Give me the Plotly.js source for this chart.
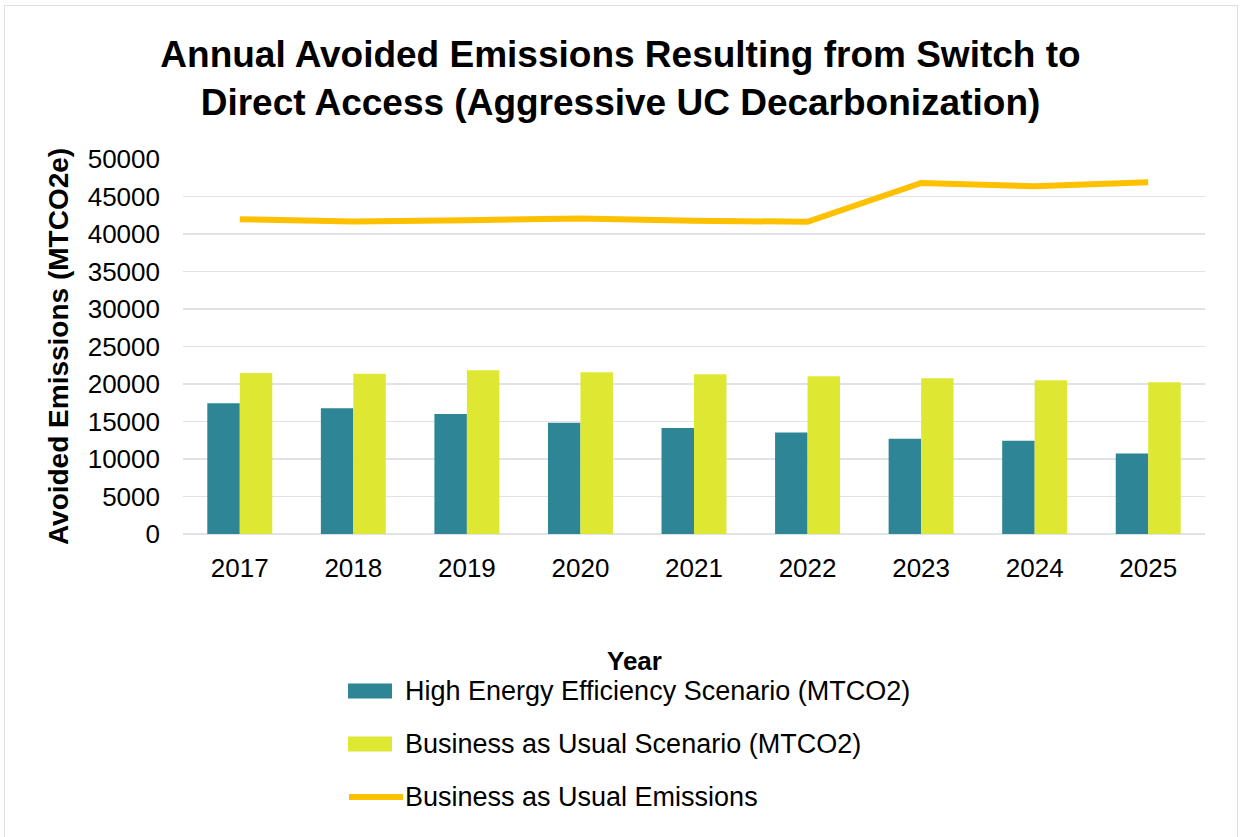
<!DOCTYPE html>
<html>
<head>
<meta charset="utf-8">
<script src="https://cdn.plot.ly/plotly-3.0.1.min.js"></script>
<style>
  html, body { margin: 0; padding: 0; background: #ffffff; }
  #wrap { position: relative; width: 1241px; height: 837px; overflow: hidden; }
  #chart { width: 1241px; height: 837px; }
  #frame {
    position: absolute; left: 4px; top: 5px; width: 1234px; height: 840px;
    border: 1.5px solid #dcdfe3; pointer-events: none; box-sizing: border-box;
  }
</style>
</head>
<body>
<div id="wrap">
  <div id="chart"></div>
  <div id="frame"></div>
</div>
<script>
// Years on the category axis
const years = ['2017', '2018', '2019', '2020', '2021', '2022', '2023', '2024', '2025'];

// Avoided emissions per scenario (MTCO2)
const highEfficiency = [17450, 16780, 16010, 14820, 14150, 13530, 12690, 12420, 10730];
const businessAsUsual = [21470, 21380, 21830, 21560, 21300, 21030, 20770, 20500, 20230];

// Business-as-usual emissions line
const bauEmissions = [41970, 41660, 41840, 42060, 41780, 41620, 46800, 46360, 46900];

const seriesNames = [
  'High Energy Efficiency Scenario (MTCO2)',
  'Business as Usual Scenario (MTCO2)',
  'Business as Usual Emissions'
];

const TEAL = '#2e8595';
const LIME = '#dee832';
const GOLD = '#ffc000';
const FONT = '"Liberation Sans", Arial, Helvetica, sans-serif';

const traces = [
  {
    type: 'bar', name: seriesNames[0], x: years, y: highEfficiency,
    marker: { color: TEAL }, showlegend: false, hoverinfo: 'x+y'
  },
  {
    type: 'bar', name: seriesNames[1], x: years, y: businessAsUsual,
    marker: { color: LIME }, showlegend: false, hoverinfo: 'x+y'
  },
  {
    type: 'scatter', mode: 'lines', name: seriesNames[2], x: years, y: bauEmissions,
    line: { color: GOLD, width: 6 }, showlegend: false, hoverinfo: 'x+y'
  }
];

// Plot-area geometry in pixels, used to place the hand-built legend
const M = { l: 183, r: 36, t: 159, b: 303 };
const W = 1241, H = 837;
const plotW = W - M.l - M.r;
const plotH = H - M.t - M.b;
const px = (x) => (x - M.l) / plotW;
const py = (y) => (H - M.b - y) / plotH;

// Legend rows: swatch + label, stacked below the axis
const legendRows = [
  { kind: 'box', color: TEAL, y: 691 },
  { kind: 'box', color: LIME, y: 744 },
  { kind: 'line', color: GOLD, y: 797 }
];

const shapes = [];
const annotations = [];
legendRows.forEach((row, i) => {
  if (row.kind === 'box') {
    shapes.push({
      type: 'rect', xref: 'paper', yref: 'paper',
      x0: px(348), x1: px(392), y0: py(row.y - 7.5), y1: py(row.y + 7.5),
      fillcolor: row.color, line: { width: 0 }
    });
  } else {
    shapes.push({
      type: 'line', xref: 'paper', yref: 'paper',
      x0: px(349), x1: px(403), y0: py(row.y), y1: py(row.y),
      line: { color: row.color, width: 6 }
    });
  }
  annotations.push({
    xref: 'paper', yref: 'paper', x: px(403), y: py(row.y),
    xanchor: 'left', yanchor: 'middle', showarrow: false,
    text: seriesNames[i], font: { family: FONT, size: 27, color: '#000000' }
  });
});

// Axis title for the years, centred under the whole figure
annotations.push({
  xref: 'paper', yref: 'paper', x: px(634), y: py(661),
  xanchor: 'center', yanchor: 'middle', showarrow: false,
  text: '<b>Year</b>', font: { family: FONT, size: 26, color: '#000000' }
});

const layout = {
  width: W, height: H,
  margin: M,
  paper_bgcolor: '#ffffff', plot_bgcolor: '#ffffff',
  font: { family: FONT, color: '#000000' },
  title: {
    text: '<b>Annual Avoided Emissions Resulting from Switch to<br>Direct Access (Aggressive UC Decarbonization)</b>',
    font: { family: FONT, size: 37, color: '#000000' },
    x: 0.5, xanchor: 'center', xref: 'container',
    y: 1 - 67 / H, yanchor: 'top', yref: 'container'
  },
  barmode: 'group', bargap: 0.428, bargroupgap: 0,
  showlegend: false,
  xaxis: {
    type: 'category',
    tickfont: { family: FONT, size: 26, color: '#000000' },
    ticks: '', showgrid: false, showline: false, zeroline: false,
    ticklabelstandoff: 16
  },
  yaxis: {
    range: [0, 50000], dtick: 5000, tick0: 0,
    tickfont: { family: FONT, size: 26, color: '#000000' },
    tickformat: 'd',
    ticks: '', showline: false,
    showgrid: true, gridcolor: '#dfe2e6', gridwidth: 1.5,
    zeroline: true, zerolinecolor: '#dfe2e6', zerolinewidth: 1.5,
    ticklabelstandoff: 22,
    title: {
      text: '<b>Avoided Emissions (MTCO2e)</b>',
      font: { family: FONT, size: 28, color: '#000000' },
      standoff: 10
    },
    automargin: false
  },
  shapes: shapes,
  annotations: annotations
};

Plotly.newPlot('chart', traces, layout, { displayModeBar: false, staticPlot: true });
</script>
</body>
</html>
